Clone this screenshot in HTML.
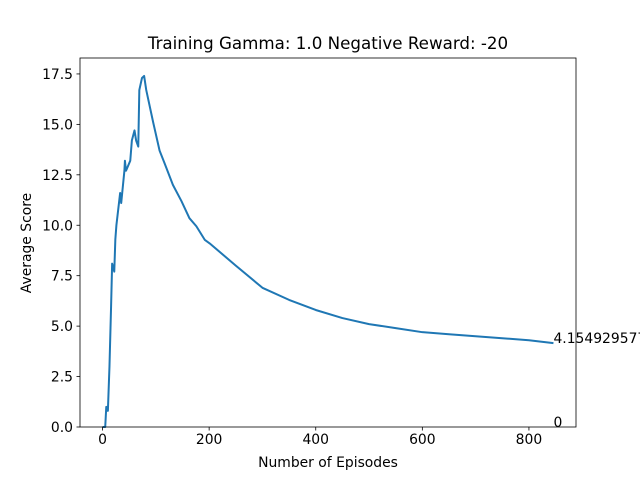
<!DOCTYPE html>
<html><head><meta charset="utf-8"><style>
html,body{margin:0;padding:0;background:#fff;overflow:hidden}
svg text{font-family:"DejaVu Sans","Liberation Sans",sans-serif;fill:#000}
</style></head><body>
<svg width="640" height="480" viewBox="0 0 640 480" xmlns="http://www.w3.org/2000/svg">
<rect width="640" height="480" fill="#fff"/>
<g id="plot"></g>
<text x="328" y="49" font-size="16.7" text-anchor="middle">Training Gamma: 1.0 Negative Reward: -20</text>
<text x="328" y="467" font-size="13.9" text-anchor="middle">Number of Episodes</text>
<text x="31" y="243" font-size="13.9" text-anchor="middle" transform="rotate(-90 31 243)">Average Score</text>
</svg>
<script>
const episodes=[0,5,7,10,13,16,18,22,24,26,33,35,41,42,44,52,55,60,63,67,69,74,78,82,95,107,116,132,148,163,176,192,201,250,300,350,400,450,500,550,600,650,700,750,800,846];
const scores=[0,0,1.0,0.8,3,5.96,8.1,7.7,9.3,10,11.6,11.1,12.7,13.2,12.7,13.2,14.2,14.7,14.2,13.9,16.7,17.3,17.4,16.7,15.1,13.7,13.1,12.0,11.2,10.35,9.95,9.27,9.1,8.0,6.9,6.3,5.8,5.4,5.1,4.9,4.7,4.6,4.5,4.4,4.3,4.155];
const xTicks=[0,200,400,600,800];
const yTicks=[0,2.5,5,7.5,10,12.5,15,17.5];
const yTickLabels=["0.0","2.5","5.0","7.5","10.0","12.5","15.0","17.5"];
const annotations=[{x:846,y:4.154929577464789,t:"4.154929577464789"},{x:846,y:0,t:"0"}];
const L=80,R=576,T=58,B=427;
const xmin=-42.3,xmax=888.3,ymin=0,ymax=18.29;
const sx=v=>L+(v-xmin)/(xmax-xmin)*(R-L);
const sy=v=>B-(v-ymin)/(ymax-ymin)*(B-T);
const NS="http://www.w3.org/2000/svg";
const g=document.getElementById('plot');
function mk(tag,attrs){const e=document.createElementNS(NS,tag);for(const k in attrs)e.setAttribute(k,attrs[k]);g.appendChild(e);return e;}
let d=episodes.map((x,i)=>(i?'L':'M')+sx(x).toFixed(2)+' '+sy(scores[i]).toFixed(2)).join(' ');
const line=mk('path',{d:d,fill:'none',stroke:'#1f77b4','stroke-width':2,'stroke-linejoin':'round'});


xTicks.forEach(v=>{
  const t=mk('line',{x1:sx(v),x2:sx(v),y1:B,y2:B+3.5,stroke:'#000','stroke-width':0.8});
  
  
  const l=mk('text',{x:sx(v),y:B+17,'font-size':13.9,'text-anchor':'middle'});l.textContent=v;
  
  
});
yTicks.forEach((v,i)=>{
  const t=mk('line',{x1:L-3.5,x2:L,y1:sy(v),y2:sy(v),stroke:'#000','stroke-width':0.8});
  
  
  const l=mk('text',{x:L-7,y:sy(v)+5,'font-size':13.9,'text-anchor':'end'});l.textContent=yTickLabels[i];
  
  
});
annotations.forEach(a=>{
  const l=mk('text',{x:sx(a.x),y:sy(a.y),'font-size':13.9});l.textContent=a.t;
  
  
});
const frame=mk('rect',{x:L,y:T,width:R-L,height:B-T,fill:'none',stroke:'#000','stroke-width':0.8});


</script>
</body></html>
